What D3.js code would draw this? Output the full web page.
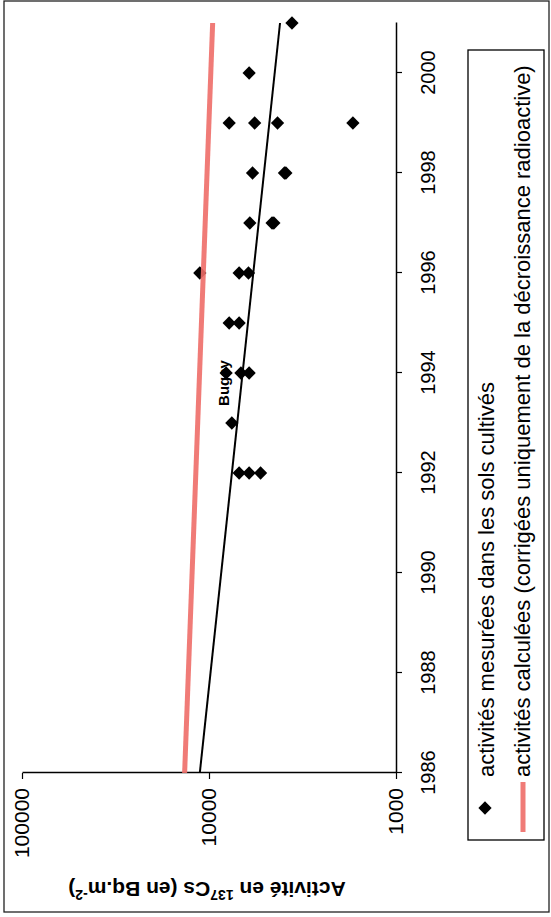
<!DOCTYPE html>
<html>
<head>
<meta charset="utf-8">
<script src="https://cdn.jsdelivr.net/npm/d3@7"></script>
<style>
  body { margin: 0; background: #fff; }
  svg { display: block; }
  text { font-family: "Liberation Sans", Arial, sans-serif; fill: #000; }
</style>
</head>
<body>
<svg id="chart" width="551" height="917"></svg>
<script>
// Measured 137Cs activity in cultivated soils (Bq/m²), one entry per sample
const measuredYears  = [1992, 1992, 1992, 1993, 1994, 1994, 1994, 1995, 1995, 1996, 1996, 1996,
                        1997, 1997, 1997, 1998, 1998, 1998, 1999, 1999, 1999, 1999, 2000, 2001];
const measuredValues = [6900, 6100, 5300, 7550, 8100, 6750, 6100, 7800, 6900, 11200, 6900, 6150,
                        6050, 4600, 4500, 5850, 3950, 3880, 7800, 5700, 4300, 1700, 6100, 3600];

// Activity corrected for radioactive decay only
const calcYears  = [1986, 2001];
const calcValues = [13500, 9560];

// Fitted trend through the measurements
const trendYears  = [1986, 2001];
const trendValues = [11200, 4170];

const yearTicks  = [1986, 1988, 1990, 1992, 1994, 1996, 1998, 2000];
const valueTicks = [1000, 10000, 100000];

const siteName = "Bugey";
const legendLabels = [
  "activités mesurées dans les sols cultivés",
  "activités calculées (corrigées uniquement de la décroissance radioactive)"
];

// The chart is laid out in a landscape frame (W x H) and turned a quarter turn
const W = 917, H = 551;
const svg = d3.select("#chart");

// outer frame
svg.append("rect")
  .attr("x", 4).attr("y", 1).attr("width", 545).attr("height", 911)
  .attr("fill", "none").attr("stroke", "#222").attr("stroke-width", 1.3);

const frame = svg.append("g").attr("transform", `translate(0,${W}) rotate(-90)`);

const x = d3.scaleLinear().domain([1986, 2001]).range([144, 894]);
const y = d3.scaleLog().domain([1000, 100000]).range([396, 22]);

// year axis
const xAxis = frame.append("g")
  .attr("transform", "translate(0,396)")
  .call(d3.axisBottom(x).tickValues(yearTicks).tickFormat(d3.format("d"))
    .tickSizeInner(6).tickSizeOuter(0).tickPadding(19));
// activity axis
const yAxis = frame.append("g")
  .attr("transform", "translate(144,0)")
  .call(d3.axisLeft(y).tickValues(valueTicks).tickFormat(d3.format("d"))
    .tickSizeInner(6).tickSizeOuter(0).tickPadding(9));

[xAxis, yAxis].forEach(a => {
  a.select(".domain").attr("stroke", "#000").attr("stroke-width", 1.5);
  a.selectAll(".tick line").attr("stroke", "#000").attr("stroke-width", 1.2);
  a.selectAll(".tick text").attr("fill", "#000")
    .style("font-family", '"Liberation Sans", Arial, sans-serif');
});
xAxis.selectAll(".tick text").attr("font-size", 20);
yAxis.selectAll(".tick text").attr("font-size", 21);

// measured points
const points = measuredYears.map((yr, i) => ({ year: yr, value: measuredValues[i] }));
frame.append("g").selectAll("path")
  .data(points)
  .join("path")
  .attr("d", d3.symbol(d3.symbolSquare, 88))
  .attr("transform", d => `translate(${x(d.year)},${y(d.value)}) rotate(45)`)
  .attr("fill", "#000");

const line = d3.line().x(d => x(d[0])).y(d => y(d[1]));

// trend line
frame.append("path")
  .attr("d", line(trendYears.map((yr, i) => [yr, trendValues[i]])))
  .attr("fill", "none").attr("stroke", "#000").attr("stroke-width", 2);

// decay-corrected line
frame.append("path")
  .attr("d", line(calcYears.map((yr, i) => [yr, calcValues[i]])))
  .attr("fill", "none").attr("stroke", "#ee6d68").attr("stroke-width", 5)
  .attr("stroke-opacity", 0.9);

// site name
frame.append("text")
  .attr("x", 534).attr("y", 229)
  .attr("text-anchor", "middle")
  .attr("font-size", 15).attr("font-weight", "bold")
  .text(siteName);

// activity axis title
const title = frame.append("text")
  .attr("transform", "translate(35,207) rotate(-90)")
  .attr("text-anchor", "middle")
  .attr("font-size", 21).attr("font-weight", "bold");
title.append("tspan").text("Activité en ");
title.append("tspan").attr("font-size", 14).attr("baseline-shift", "super").text("137");
title.append("tspan").text("Cs (en Bq.m");
title.append("tspan").attr("font-size", 14).attr("baseline-shift", "super").text("-2");
title.append("tspan").text(")");

// legend
const legend = frame.append("g");
legend.append("rect")
  .attr("x", 77).attr("y", 468).attr("width", 790).attr("height", 76)
  .attr("fill", "#fff").attr("stroke", "#000").attr("stroke-width", 1.3);
legend.append("path")
  .attr("d", d3.symbol(d3.symbolSquare, 88))
  .attr("transform", "translate(109,485) rotate(45)")
  .attr("fill", "#000");
legend.append("line")
  .attr("x1", 85).attr("x2", 135).attr("y1", 523).attr("y2", 523)
  .attr("stroke", "#ee6d68").attr("stroke-width", 5).attr("stroke-opacity", 0.9);
legend.selectAll("text.lbl")
  .data(legendLabels)
  .join("text")
  .attr("class", "lbl")
  .attr("x", 140)
  .attr("y", (d, i) => i === 0 ? 494 : 530)
  .attr("font-size", 22)
  .text(d => d);
</script>
</body>
</html>
